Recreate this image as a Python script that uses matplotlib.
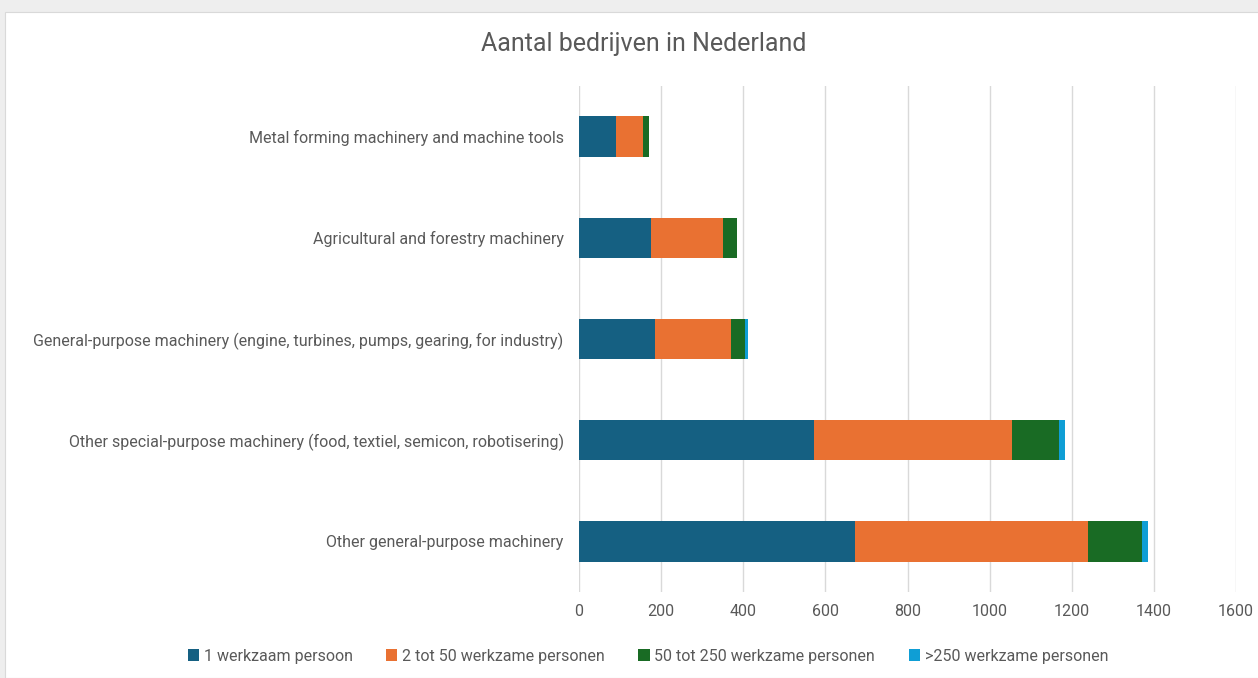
import matplotlib.pyplot as plt
from matplotlib.patches import Rectangle
from matplotlib import font_manager

categories = [
    'Other general-purpose machinery',
    'Other special-purpose machinery (food, textiel, semicon, robotisering)',
    'General-purpose machinery (engine, turbines, pumps, gearing, for industry)',
    'Agricultural and forestry machinery',
    'Metal forming machinery and machine tools',
]
series_names = ['1 werkzaam persoon', '2 tot 50 werkzame personen',
                '50 tot 250 werkzame personen', '>250 werkzame personen']
een = [673, 573, 185, 175, 91]
twee_50 = [567, 482, 186, 175, 65]
vijftig_250 = [130, 113, 34, 35, 14]
boven_250 = [15, 16, 6, 0, 0]
colors = ['#156082', '#E97132', '#196B24', '#0F9ED5']

names = {f.name for f in font_manager.fontManager.ttflist}
fam = 'Liberation Sans Narrow' if 'Liberation Sans Narrow' in names else 'Roboto'
plt.rcParams['font.family'] = [fam, 'DejaVu Sans']
txt = '#595959'

fig = plt.figure(figsize=(12.58, 6.78), dpi=100, facecolor='#eeeeee')
fig.patches.append(Rectangle((5 / 1258, 0), 1, 1 - 12 / 678, transform=fig.transFigure,
                             facecolor='white', edgecolor='#d9d9d9', lw=0.8, zorder=-5))

ax = fig.add_axes([579 / 1258, 1 - 592 / 678, 657 / 1258, 506 / 678])
ax.set_facecolor('none')
ax.set_zorder(2)

left = [0] * len(categories)
for vals, name, col in zip([een, twee_50, vijftig_250, boven_250], series_names, colors):
    ax.barh(categories, vals, left=left, height=0.4, color=col, label=name, zorder=3)
    left = [a + b for a, b in zip(left, vals)]

ax.set_xlim(0, 1600)
ax.set_ylim(-0.5, 4.5)
ax.set_xticks(range(0, 1601, 200))
ax.grid(axis='x', color='#d9d9d9', lw=1, zorder=0)
for s in ax.spines.values():
    s.set_visible(False)
ax.tick_params(axis='both', length=0, colors=txt, labelsize=11.5)
ax.tick_params(axis='x', pad=9)
ax.tick_params(axis='y', pad=11)

fig.text(0.512, 1 - 44 / 678, 'Aantal bedrijven in Nederland', ha='center', va='center',
         fontsize=18, color=txt)

fig.legend(loc='center', bbox_to_anchor=(0.515, 1 - 656 / 678), ncol=4, frameon=False,
           fontsize=11.5, labelcolor=txt, handlelength=0.7, handleheight=0.7,
           handletextpad=0.3, columnspacing=2.1)

fig.savefig('out.png', dpi=100, facecolor=fig.get_facecolor())
